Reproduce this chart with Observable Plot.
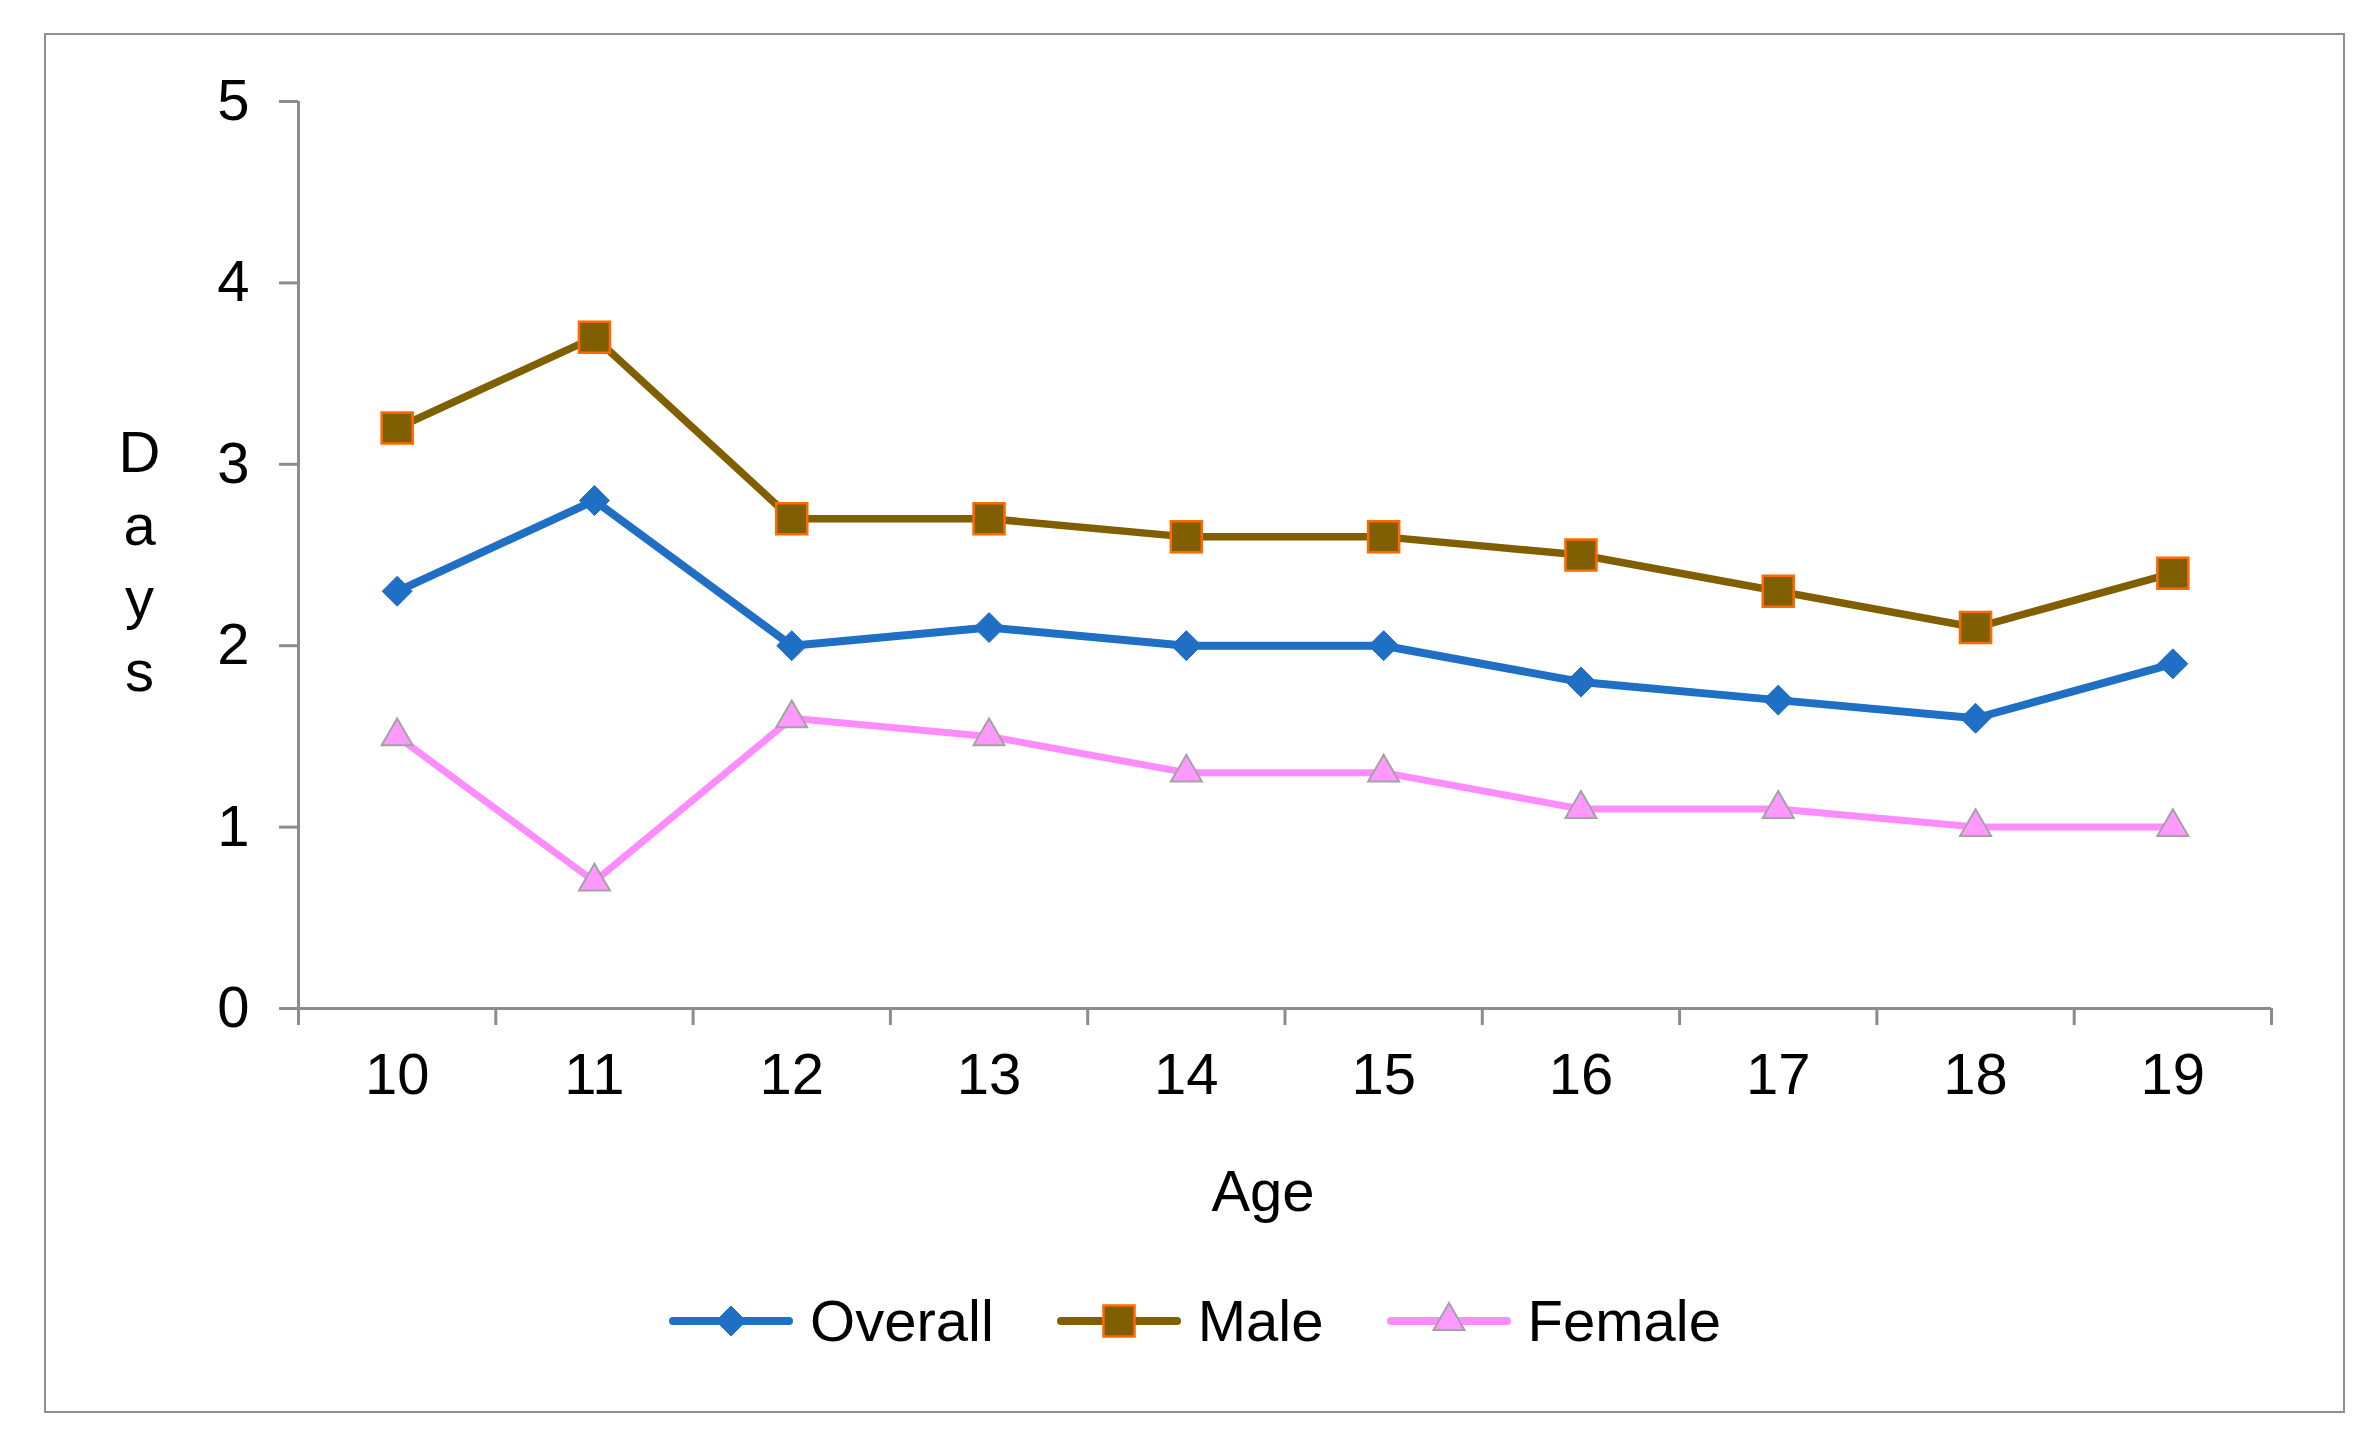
<!DOCTYPE html>
<html>
<head>
<meta charset="utf-8">
<script src="https://cdn.jsdelivr.net/npm/d3@7"></script>
<script src="https://cdn.jsdelivr.net/npm/@observablehq/plot@0.6"></script>
<style>
  html, body { margin: 0; padding: 0; background: #fff; }
  body { width: 2373px; height: 1451px; overflow: hidden; position: relative; font-family: "Liberation Sans", Arial, sans-serif; }
  #frame { position: absolute; left: 44px; top: 33px; width: 2297px; height: 1376px; border: 2px solid #8f8f8f; background: #fff; }
  #chart { position: absolute; left: 0; top: 0; }
  #legend { position: absolute; left: 0; right: 0; top: 1246px; height: 80px; display: flex; justify-content: center; align-items: center; gap: 62px; font-size: 58px; color: #000; }
  .item { display: flex; align-items: center; }
  .item span { margin-left: 16px; line-height: 1; }
</style>
</head>
<body>
<div id="frame">
  <div id="chart"></div>
  <div id="legend"></div>
</div>
<script>
// ---- data ----
const ages = [10, 11, 12, 13, 14, 15, 16, 17, 18, 19];
const overall = [2.3, 2.8, 2.0, 2.1, 2.0, 2.0, 1.8, 1.7, 1.6, 1.9];
const male    = [3.2, 3.7, 2.7, 2.7, 2.6, 2.6, 2.5, 2.3, 2.1, 2.4];
const female  = [1.5, 0.7, 1.6, 1.5, 1.3, 1.3, 1.1, 1.1, 1.0, 1.0];
const seriesNames = ["Overall", "Male", "Female"];
const yTicks = [0, 1, 2, 3, 4, 5];
const bandEdges = [9.5, 10.5, 11.5, 12.5, 13.5, 14.5, 15.5, 16.5, 17.5, 18.5, 19.5];
const xLabel = "Age";
const yLabel = "Days";

// ---- styles ----
const styles = {
  Overall: { line: "#1f6fc5", fill: "#1f6fc5", stroke: "#1f6fc5", symbol: "diamond2", r: 13.5, sw: 1, d3sym: d3.symbolDiamond2, lw: 8 },
  Male:    { line: "#7f5f00", fill: "#7f5f00", stroke: "#ff6a00", symbol: "square",   r: 17.5, sw: 2.5, d3sym: d3.symbolSquare, lw: 7.5 },
  Female:  { line: "#ff8cff", fill: "#ff99ff", stroke: "#a3a3a3", symbol: "triangle", r: 11.5, sw: 2, d3sym: d3.symbolTriangle, lw: 7 }
};
const valuesBySeries = { Overall: overall, Male: male, Female: female };
const rows = seriesNames.flatMap(s => ages.map((a, i) => ({ series: s, age: a, days: valuesBySeries[s][i] })));

const axisGray = "#8c8c8c";
const W = 2297, H = 1230;

const marks = [
  Plot.axisY({ ticks: yTicks, tickSize: 19, tickPadding: 30, stroke: axisGray, strokeWidth: 3, fill: "#000", label: null, tickFormat: d => String(d) }),
  Plot.axisX({ ticks: ages, tickSize: 0, tickPadding: 44, fill: "#000", label: null, tickFormat: d => String(d) }),
  Plot.axisX({ ticks: bandEdges, tickSize: 17, tickFormat: () => "", stroke: axisGray, strokeWidth: 3, label: null }),
  Plot.ruleY([0], { stroke: axisGray, strokeWidth: 3 }),
  Plot.ruleX([9.5], { stroke: axisGray, strokeWidth: 3 }),
  Plot.text([yLabel.split("").join("\n")], { frameAnchor: "left", dx: -159, dy: 3, textAnchor: "middle", lineHeight: 1.264, fontSize: 58, fill: "#000" }),
  Plot.text([xLabel], { frameAnchor: "bottom", dx: -22, dy: 202, textAnchor: "middle", fontSize: 58, fill: "#000" })
];
for (const s of seriesNames) {
  const st = styles[s];
  const d = rows.filter(r => r.series === s);
  marks.push(Plot.line(d, { x: "age", y: "days", stroke: st.line, strokeWidth: st.lw, strokeLinejoin: "round", strokeLinecap: "round" }));
}
for (const s of seriesNames) {
  const st = styles[s];
  const d = rows.filter(r => r.series === s);
  marks.push(Plot.dot(d, { x: "age", y: "days", symbol: () => st.symbol, r: st.r, fill: st.fill, stroke: st.stroke, strokeWidth: st.sw }));
}

const chart = Plot.plot({
  width: W,
  height: H,
  marginLeft: 252,
  marginRight: 72,
  marginTop: 66,
  marginBottom: H - 973,
  style: { fontFamily: "'Liberation Sans', Arial, sans-serif", fontSize: "58px", background: "#fff", color: "#000", overflow: "visible" },
  x: { domain: [9.5, 19.5], axis: null },
  y: { domain: [0, 5], axis: null },
  symbol: { type: "identity" },
  marks
});
document.getElementById("chart").appendChild(chart);

// ---- legend ----
const legend = document.getElementById("legend");
for (const s of seriesNames) {
  const st = styles[s];
  const item = document.createElement("div");
  item.className = "item";
  const sw = 126, sh = 50;
  const svg = d3.create("svg").attr("width", sw).attr("height", sh);
  svg.append("line").attr("x1", 5).attr("x2", sw - 5).attr("y1", sh / 2).attr("y2", sh / 2)
    .attr("stroke", st.line).attr("stroke-width", 8).attr("stroke-linecap", "round");
  svg.append("path").attr("transform", `translate(${sw / 2},${sh / 2})`)
    .attr("d", d3.symbol(st.d3sym, Math.PI * st.r * st.r)())
    .attr("fill", st.fill).attr("stroke", st.stroke).attr("stroke-width", st.sw);
  item.appendChild(svg.node());
  const label = document.createElement("span");
  label.textContent = s;
  item.appendChild(label);
  legend.appendChild(item);
}
</script>
</body>
</html>
